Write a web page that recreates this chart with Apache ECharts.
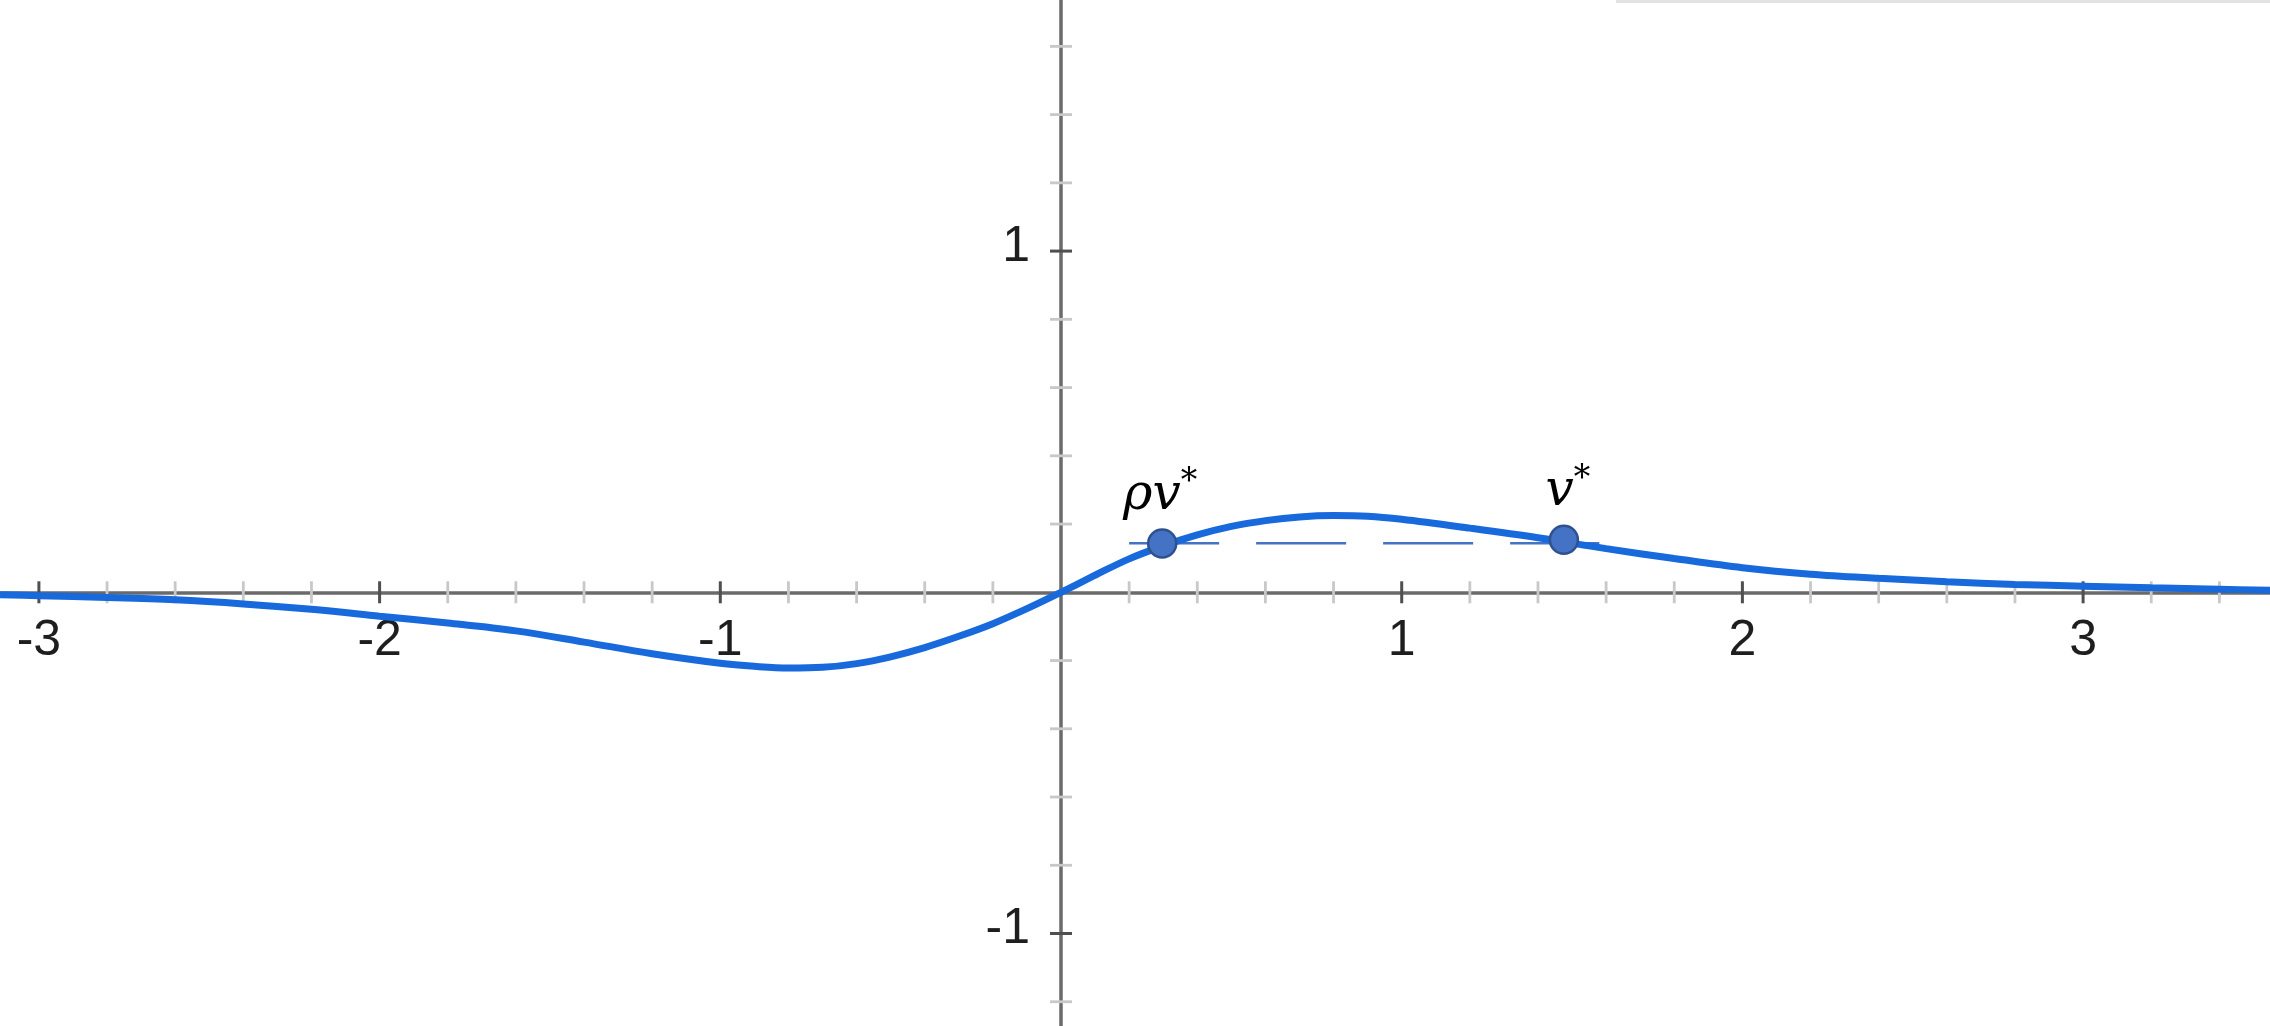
<!DOCTYPE html>
<html>
<head>
<meta charset="utf-8">
<script src="https://cdn.jsdelivr.net/npm/echarts@6/dist/echarts.min.js"></script>
<style>
html,body{margin:0;padding:0;background:#fff;}
#chart{width:2270px;height:1026px;}
</style>
</head>
<body>
<div id="chart"></div>
<script>
// ---- data ----
const curveX = [-3.114, -3.0, -2.8, -2.6, -2.4, -2.2, -2.0, -1.8, -1.6, -1.4, -1.2, -1.0, -0.9, -0.8, -0.7, -0.6, -0.5, -0.4, -0.3, -0.2, -0.1, 0, 0.1, 0.2, 0.3, 0.4, 0.5, 0.6, 0.7, 0.8, 0.9, 1.0, 1.2, 1.4, 1.6, 1.8, 2.0, 2.2, 2.4, 2.6, 2.8, 3.0, 3.2, 3.4, 3.549];
const curveY = [-0.007, -0.010, -0.015, -0.022, -0.034, -0.050, -0.070, -0.090, -0.113, -0.146, -0.180, -0.208, -0.217, -0.222, -0.220, -0.209, -0.189, -0.162, -0.129, -0.092, -0.048, 0, 0.050, 0.098, 0.136, 0.168, 0.193, 0.210, 0.221, 0.225, 0.223, 0.214, 0.188, 0.160, 0.128, 0.099, 0.072, 0.053, 0.041, 0.031, 0.023, 0.018, 0.013, 0.009, 0.006];
const pointX = [0.297, 1.476];
const pointY = [0.143, 0.154];
const pointLabels = ['ρv', 'v'];
const dashX = [0.20, 1.58];
const dashY = [0.144, 0.144];
const xMajorTicks = [-3, -2, -1, 1, 2, 3];
const xTickLabels = ['-3', '-2', '-1', '1', '2', '3'];
const xMinorTicks = [-2.8, -2.6, -2.4, -2.2, -1.8, -1.6, -1.4, -1.2, -0.8, -0.6, -0.4, -0.2, 0.2, 0.4, 0.6, 0.8, 1.2, 1.4, 1.6, 1.8, 2.2, 2.4, 2.6, 2.8, 3.2, 3.4];
const yMajorTicks = [-1, 1];
const yTickLabels = ['-1', '1'];
const yMinorTicks = [-1.2, -0.8, -0.6, -0.4, -0.2, 0.2, 0.4, 0.6, 0.8, 1.2, 1.4, 1.6];

// ---- chart ----
const chart = echarts.init(document.getElementById('chart'), null, {renderer: 'canvas'});

const axisColor = '#6a6a6a';
const majorTickColor = '#4f4f4f';
const minorTickColor = '#c8c8c8';
const TICK_HALF = 11;

// tick table: [value, kind]  kind 0=x minor, 1=x major, 2=y minor, 3=y major
const tickData = []
  .concat(xMinorTicks.map(v => [v, 0]))
  .concat(xMajorTicks.map(v => [v, 1]))
  .concat(yMinorTicks.map(v => [v, 2]))
  .concat(yMajorTicks.map(v => [v, 3]));

// label table: [value, kind, text] kind 0 = x, 1 = y
const labelData = []
  .concat(xMajorTicks.map((v, i) => [v, 0, xTickLabels[i]]))
  .concat(yMajorTicks.map((v, i) => [v, 1, yTickLabels[i]]));

const curveData = curveX.map((x, i) => [x, curveY[i]]);
const dashData = dashX.map((x, i) => [x, dashY[i]]);
const labelOffsets = [[-2, 0], [4, 0]];
const pointData = pointX.map((x, i) => ({
  value: [x, pointY[i]],
  label: {
    formatter: '{m|' + pointLabels[i] + '}{s|*}',
    offset: labelOffsets[i]
  }
}));

const plainAxis = (min, max) => ({
  type: 'value',
  min: min,
  max: max,
  axisLine: {show: true, onZero: true, lineStyle: {color: axisColor, width: 3.5}},
  axisTick: {show: false},
  minorTick: {show: false},
  axisLabel: {show: false},
  splitLine: {show: false}
});

chart.setOption({
  animation: false,
  backgroundColor: '#ffffff',
  grid: {left: 0, right: 0, top: 0, bottom: 0, containLabel: false},
  xAxis: plainAxis(-3.1142, 3.5486),
  yAxis: plainAxis(-1.2711, 1.7359),
  graphic: [{
    type: 'rect',
    shape: {x: 1616, y: 0, width: 700, height: 3},
    style: {fill: '#e2e2e2'},
    silent: true
  }],
  series: [
    {
      // axis tick marks (cross the axis line), placed by the axis scales
      type: 'custom',
      coordinateSystem: 'cartesian2d',
      data: tickData,
      encode: {x: -1, y: -1},
      silent: true,
      z: 1,
      renderItem: function (params, api) {
        const v = api.value(0);
        const kind = api.value(1);
        const major = kind === 1 || kind === 3;
        const color = major ? majorTickColor : minorTickColor;
        let shape;
        if (kind <= 1) {
          const p = api.coord([v, 0]);
          shape = {x1: p[0], y1: p[1] - TICK_HALF, x2: p[0], y2: p[1] + TICK_HALF};
        } else {
          const p = api.coord([0, v]);
          shape = {x1: p[0] - TICK_HALF, y1: p[1], x2: p[0] + TICK_HALF, y2: p[1]};
        }
        return {type: 'line', shape: shape, style: {stroke: color, lineWidth: major ? 3 : 2.8}};
      }
    },
    {
      // axis tick labels
      type: 'custom',
      coordinateSystem: 'cartesian2d',
      data: labelData,
      encode: {x: -1, y: -1},
      silent: true,
      z: 1,
      renderItem: function (params, api) {
        const v = api.value(0);
        const kind = api.value(1);
        const text = labelData[params.dataIndex][2];
        const font = {fontSize: 50, fontFamily: 'Liberation Sans, Arial, sans-serif', fill: '#1e1e1e'};
        if (kind === 0) {
          const p = api.coord([v, 0]);
          return {type: 'text', x: p[0], y: p[1] + 48.5,
            style: Object.assign({text: text, align: 'center', verticalAlign: 'middle'}, font)};
        }
        const p = api.coord([0, v]);
        return {type: 'text', x: p[0] - 31, y: p[1] - 4,
          style: Object.assign({text: text, align: 'right', verticalAlign: 'middle'}, font)};
      }
    },
    {
      type: 'line',
      data: dashData,
      showSymbol: false,
      silent: true,
      lineStyle: {color: '#4472c4', width: 2.5, type: [90, 37]},
      z: 2
    },
    {
      type: 'line',
      data: curveData,
      smooth: 0.35,
      showSymbol: false,
      silent: true,
      lineStyle: {color: '#1769dc', width: 7},
      z: 3
    },
    {
      type: 'scatter',
      data: pointData,
      symbol: 'circle',
      symbolSize: 28,
      itemStyle: {color: '#4472c4', borderColor: '#2f528f', borderWidth: 2.5, opacity: 1},
      label: {
        show: true,
        position: 'top',
        distance: 2,
        rich: {
          m: {fontFamily: 'DejaVu Serif, Liberation Serif, serif', fontStyle: 'italic', fontSize: 50, lineHeight: 60, color: '#000000'},
          s: {fontFamily: 'DejaVu Serif, Liberation Serif, serif', fontSize: 33, color: '#000000', verticalAlign: 'top'}
        }
      },
      z: 4
    }
  ]
});
</script>
</body>
</html>
